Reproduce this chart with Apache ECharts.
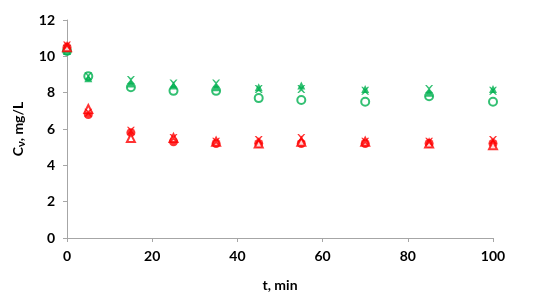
<!DOCTYPE html>
<html><head><meta charset="utf-8">
<script src="https://cdn.jsdelivr.net/npm/echarts@6/dist/echarts.min.js"></script>
<style>html,body{margin:0;padding:0;background:#fff}#c{width:550px;height:303px}</style>
</head><body><div id="c"></div>
<script>
const times = [0, 5, 15, 25, 35, 45, 55, 70, 85, 100];
const greenCircle   = [10.3, 8.9, 8.3, 8.1, 8.1, 7.7, 7.6, 7.5, 7.8, 7.5];
const greenTriangle = [10.3, 8.8, 8.5, 8.4, 8.3, 8.3, 8.4, 8.2, 8.0, 8.2];
const greenCross    = [10.4, 8.9, 8.7, 8.5, 8.5, 8.2, 8.2, 8.1, 8.2, 8.1];
const redCircle     = [10.5, 6.8, 5.8, 5.3, 5.2, 5.2, 5.2, 5.2, 5.2, 5.2];
const redTriangle   = [10.5, 7.1, 5.5, 5.5, 5.3, 5.2, 5.3, 5.3, 5.2, 5.1];
const redCross      = [10.6, 6.9, 5.9, 5.5, 5.3, 5.4, 5.5, 5.3, 5.3, 5.4];
const xTicks = [0, 20, 40, 60, 80, 100];
const yTicks = [0, 2, 4, 6, 8, 10, 12];

const GREEN = '#00B050', RED = '#FF0000';
const X_PATH = 'path://M0,0 L2,0 L5,3 L8,0 L10,0 L6,5 L10,10 L8,10 L5,7 L2,10 L0,10 L4,5 Z';
const pair = arr => times.map((t, i) => [t, arr[i]]);
function s(name, data, color, symbol, size, hollow) {
  return {
    name, type: 'scatter', data: pair(data), symbol, symbolSize: size,
    itemStyle: hollow ? { color: '#fff', borderColor: color, borderWidth: 2 } : { color },
    z: 3
  };
}
const chart = echarts.init(document.getElementById('c'), null, { renderer: 'canvas' });
chart.setOption({
  animation: false,
  grid: { left: 67, right: 57, top: 20, bottom: 65 },
  xAxis: {
    type: 'value', min: 0, max: 100, interval: 20,
    name: 't, min', nameLocation: 'middle', nameGap: 40,
    nameTextStyle: { fontFamily: 'Lato', fontWeight: 'bold', fontSize: 14, color: '#000' },
    axisLine: { lineStyle: { color: '#A6A6A6', width: 1 } },
    axisTick: { show: true, inside: false, length: 4, lineStyle: { color: '#A6A6A6' } },
    axisLabel: { fontFamily: 'Lato', fontWeight: 'bold', fontSize: 14, color: '#000', margin: 11,
      formatter: v => xTicks.includes(v) ? String(v) : '' },
    splitLine: { show: false }
  },
  yAxis: {
    type: 'value', min: 0, max: 12, interval: 2,
    name: '{c|C}{v|ν}{c|, mg/L}', nameLocation: 'middle', nameGap: 40,
    nameTextStyle: { rich: {
      c: { fontFamily: 'Lato', fontWeight: 'bold', fontSize: 14, color: '#000' },
      v: { fontFamily: 'Lato', fontWeight: 'bold', fontSize: 11, color: '#000', padding: [6, 0, 0, 0] }
    } },
    axisLine: { show: true, lineStyle: { color: '#A6A6A6', width: 1 } },
    axisTick: { show: true, inside: false, length: 4, lineStyle: { color: '#A6A6A6' } },
    axisLabel: { fontFamily: 'Lato', fontWeight: 'bold', fontSize: 14, color: '#000', margin: 12,
      formatter: v => yTicks.includes(v) ? String(v) : '' },
    splitLine: { show: false }
  },
  series: [
    s('green circle', greenCircle, GREEN, 'circle', 8, true),
    s('green triangle', greenTriangle, GREEN, 'triangle', 8, false),
    s('green cross', greenCross, GREEN, X_PATH, 8, false),
    s('red circle', redCircle, RED, 'circle', 9, false),
    s('red triangle', redTriangle, RED, 'triangle', 8, true),
    s('red cross', redCross, RED, X_PATH, 8, false)
  ]
});
</script></body></html>
